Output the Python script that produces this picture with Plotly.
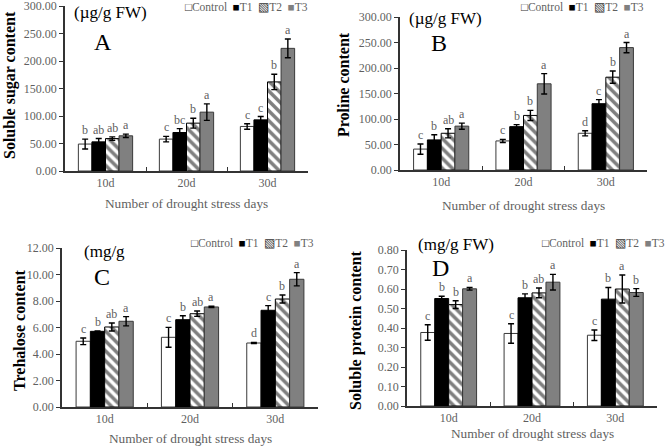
import plotly.graph_objects as go

# --- data ---
DAYS = ["10d", "20d", "30d"]
TREATMENTS = ["Control", "T1", "T2", "T3"]

# Panel A: soluble sugar (µg/g FW)
SUGAR = {
    "Control": [49, 58, 81],
    "T1": [53, 70, 93],
    "T2": [59, 87, 162],
    "T3": [64, 107, 223],
}
SUGAR_ERR = {
    "Control": [9, 5, 5],
    "T1": [6, 7, 6],
    "T2": [3, 9, 14],
    "T3": [3, 15, 17],
}
SUGAR_LET = {
    "Control": ["b", "c", "c"],
    "T1": ["ab", "bc", "c"],
    "T2": ["ab", "b", "b"],
    "T3": ["a", "a", "a"],
}

# Panel B: proline (µg/g FW)
PROLINE = {
    "Control": [41, 57, 72],
    "T1": [59, 85, 130],
    "T2": [72, 107, 182],
    "T3": [86, 169, 240],
}
PROLINE_ERR = {
    "Control": [10, 3, 5],
    "T1": [10, 4, 8],
    "T2": [9, 10, 12],
    "T3": [6, 20, 10],
}
PROLINE_LET = {
    "Control": ["c", "c", "d"],
    "T1": ["b", "b", "c"],
    "T2": ["ab", "b", "b"],
    "T3": ["a", "a", "a"],
}

# Panel C: trehalose (mg/g)
TREHALOSE = {
    "Control": [4.96, 5.26, 4.83],
    "T1": [5.71, 6.59, 7.30],
    "T2": [6.04, 7.04, 8.15],
    "T3": [6.47, 7.55, 9.64],
}
TREHALOSE_ERR = {
    "Control": [0.25, 0.75, 0.05],
    "T1": [0.03, 0.30, 0.35],
    "T2": [0.30, 0.20, 0.30],
    "T3": [0.35, 0.05, 0.50],
}
TREHALOSE_LET = {
    "Control": ["c", "c", "d"],
    "T1": ["b", "b", "c"],
    "T2": ["ab", "ab", "b"],
    "T3": ["a", "a", "a"],
}

# Panel D: soluble protein (mg/g FW)
PROTEIN = {
    "Control": [0.377, 0.372, 0.363],
    "T1": [0.551, 0.555, 0.548],
    "T2": [0.520, 0.580, 0.600],
    "T3": [0.601, 0.635, 0.582],
}
PROTEIN_ERR = {
    "Control": [0.040, 0.050, 0.027],
    "T1": [0.012, 0.020, 0.060],
    "T2": [0.020, 0.025, 0.072],
    "T3": [0.007, 0.040, 0.020],
}
PROTEIN_LET = {
    "Control": ["c", "c", "c"],
    "T1": ["b", "b", "b"],
    "T2": ["b", "ab", "a"],
    "T3": ["a", "a", "b"],
}

# --- styling ---
W, H = 668, 447
SERIF = "Liberation Serif, Times New Roman, serif"
GRAY_TXT = "#5f5f5f"
AXIS = "#333333"
BARGAP = 0.33

STYLE = {
    "Control": dict(color="white", line=dict(color="#3a3a3a", width=1)),
    "T1": dict(color="black", line=dict(color="black", width=1)),
    "T2": dict(
        color="white",
        line=dict(color="black", width=1),
        pattern=dict(shape="\\", fgcolor="black", bgcolor="white", size=7, solidity=0.5),
    ),
    "T3": dict(color="#808080", line=dict(color="#3a3a3a", width=1)),
}


def px_x(p):
    return p / W


def px_y(p):
    return 1 - p / H


PANELS = [
    dict(vals=SUGAR, err=SUGAR_ERR, let=SUGAR_LET, ytitle="Soluble sugar content",
         xdom=(65, 308), ydom=(171, 6), yrange=(0, 300), dtick=50,
         unit="(µg/g FW)", unit_xy=(72, 13), letter="A", letter_xy=(103, 42),
         ytitle_xy=(10, 85), xtitle_y=203, legend_xy=(310, 7)),
    dict(vals=PROLINE, err=PROLINE_ERR, let=PROLINE_LET, ytitle="Proline content",
         xdom=(400, 647), ydom=(170, 17), yrange=(0, 300), dtick=50,
         unit="(µg/g FW)", unit_xy=(407, 19), letter="B", letter_xy=(439, 43),
         ytitle_xy=(343, 85), xtitle_y=205, legend_xy=(646, 7)),
    dict(vals=TREHALOSE, err=TREHALOSE_ERR, let=TREHALOSE_LET, ytitle="Trehalose content",
         xdom=(62, 318), ydom=(407, 248), yrange=(0, 12), dtick=2,
         unit="(mg/g", unit_xy=(82, 252), letter="C", letter_xy=(102, 277),
         ytitle_xy=(19, 331), xtitle_y=438, legend_xy=(316, 243)),
    dict(vals=PROTEIN, err=PROTEIN_ERR, let=PROTEIN_LET, ytitle="Soluble protein content",
         xdom=(407, 657), ydom=(406, 250), yrange=(0, 0.8), dtick=0.1,
         unit="(mg/g FW)", unit_xy=(416, 244), letter="D", letter_xy=(440, 268),
         ytitle_xy=(356, 330), xtitle_y=433, legend_xy=(667, 243)),
]

fig = go.Figure()
annotations = []
layout = {}


def paper_text(x, y, text, size, color, **kw):
    d = dict(x=px_x(x), y=px_y(y), xref="paper", yref="paper", text=text,
             showarrow=False, xanchor="center", yanchor="middle",
             font=dict(family=SERIF, size=size, color=color))
    d.update(kw)
    return d


for k, p in enumerate(PANELS, start=1):
    xa = "x" if k == 1 else f"x{k}"
    ya = "y" if k == 1 else f"y{k}"
    for tr in TREATMENTS:
        fig.add_trace(
            go.Bar(
                x=DAYS,
                y=p["vals"][tr],
                name=tr,
                xaxis=xa,
                yaxis=ya,
                marker=STYLE[tr],
                error_y=dict(type="data", array=p["err"][tr], color="black", thickness=1.4, width=3),
                showlegend=False,
            )
        )
        # significance letters above error bars
        j = TREATMENTS.index(tr)
        bw = (1 - BARGAP) / len(TREATMENTS)
        for i, d in enumerate(DAYS):
            annotations.append(dict(
                x=i + (j - 1.5) * bw, y=p["vals"][tr][i] + p["err"][tr][i],
                xref=xa, yref=ya, text=p["let"][tr][i], showarrow=False,
                xanchor="center", yanchor="bottom", yshift=0,
                font=dict(family=SERIF, size=12, color=GRAY_TXT),
            ))

    layout[f"xaxis{'' if k == 1 else k}"] = dict(
        domain=[px_x(p["xdom"][0]), px_x(p["xdom"][1])],
        anchor=ya, type="category", showline=True, linecolor=AXIS, linewidth=1.5,
        ticks="inside", ticklen=4, tickcolor=AXIS, tickson="boundaries",
        showgrid=False, automargin=False, ticklabeloverflow="allow",
        tickfont=dict(family=SERIF, size=12, color=GRAY_TXT),
    )
    layout[f"yaxis{'' if k == 1 else k}"] = dict(
        domain=[px_y(p["ydom"][0]), px_y(p["ydom"][1])],
        anchor=xa, range=list(p["yrange"]), dtick=p["dtick"], tickformat=".2f",
        showline=True, linecolor=AXIS, linewidth=1.5, ticks="outside", ticklen=4,
        tickcolor=AXIS, showgrid=False, zeroline=False, automargin=False,
        ticklabeloverflow="allow",
        tickfont=dict(family=SERIF, size=12, color=GRAY_TXT),
    )

    # y title, x title, unit, panel letter, legend
    annotations.append(paper_text(*p["ytitle_xy"], f"<b>{p['ytitle']}</b>", 16, "black", textangle=-90))
    annotations.append(paper_text((p["xdom"][0] + p["xdom"][1]) / 2, p["xtitle_y"],
                                  "Number of drought stress days", 13.3, GRAY_TXT))
    annotations.append(paper_text(*p["unit_xy"], p["unit"], 17, "black", xanchor="left"))
    annotations.append(paper_text(*p["letter_xy"], p["letter"], 24, "black", borderpad=0))
    legend_txt = (
        '<span style="color:#333">□</span>Control  '
        '<span style="color:black">■</span>T1  '
        '<span style="color:#333">▧</span>T2  '
        '<span style="color:#808080">■</span>T3'
    )
    annotations.append(paper_text(*p["legend_xy"], legend_txt, 11.5, GRAY_TXT, xanchor="right"))

fig.update_layout(
    **layout,
    annotations=annotations,
    barmode="group",
    bargap=BARGAP,
    bargroupgap=0,
    width=W,
    height=H,
    margin=dict(l=0, r=0, t=0, b=0),
    paper_bgcolor="white",
    plot_bgcolor="white",
    font=dict(family=SERIF, color=GRAY_TXT),
)

# drop the default 8px page margin so the figure sits at the window origin
fig.write_html(
    "out.html",
    config={"displayModeBar": False},
    post_script="document.body.style.margin='0';",
)
